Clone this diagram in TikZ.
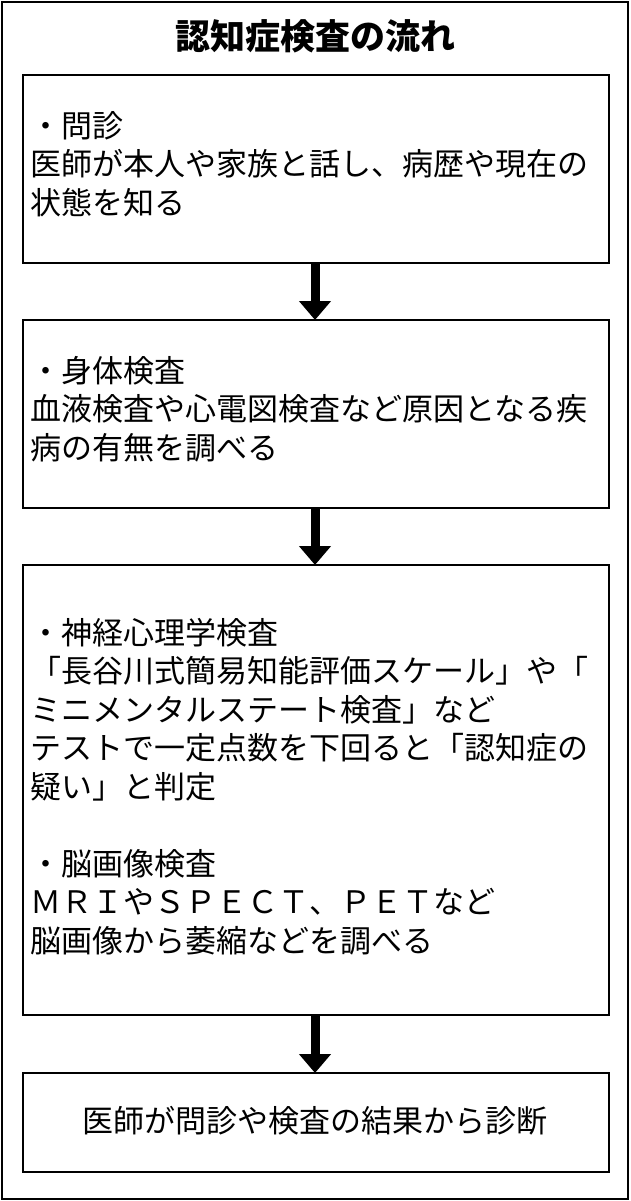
\documentclass[tikz,border=0pt]{standalone}
\usepackage{fontspec}
\setmainfont{Noto Sans CJK JP}
\usetikzlibrary{arrows.meta}
\begin{document}
\begin{tikzpicture}[x=1pt,y=-1pt,
  box/.style={draw,line width=1.5pt},
  txt/.style={anchor=north west,inner sep=0pt,align=left,font=\fontsize{31}{38.5}\selectfont},
  flow/.style={line width=9pt,-{Triangle[length=19pt,width=31pt]}}]
\useasboundingbox (0,0) rectangle (630,1201);
\draw[box] (2,2) rectangle (628,1199);
\node (title) at (315,36) {\fontsize{35}{40}\selectfont\bfseries 認知症検査の流れ};
\draw[box] (23,75) rectangle (609,263);
\coordinate (b1s) at (315,263);
\node[txt] (t1) at (30,111) {・問診\\医師が本人や家族と話し、病歴や現在の\\状態を知る};
\draw[box] (23,320) rectangle (609,508);
\coordinate (b2n) at (315,320);
\coordinate (b2s) at (315,508);
\node[txt] (t2) at (30,356) {・身体検査\\血液検査や心電図検査など原因となる疾\\病の有無を調べる};
\draw[box] (23,565) rectangle (609,1015);
\coordinate (b3n) at (315,565);
\coordinate (b3s) at (315,1015);
\node[txt] (t3) at (30,618) {・神経心理学検査\\「長谷川式簡易知能評価スケール」や「\\ミニメンタルステート検査」など\\テストで一定点数を下回ると「認知症の\\疑い」と判定\\[38.5pt]・脳画像検査\\ＭＲＩやＳＰＥＣＴ、ＰＥＴなど\\脳画像から萎縮などを調べる};
\draw[box] (23,1073) rectangle (609,1172);
\coordinate (b4n) at (315,1073);
\node (t4) at (315,1121) {\fontsize{31}{36}\selectfont 医師が問診や検査の結果から診断};
\draw[flow] (b1s) -- (b2n);
\draw[flow] (b2s) -- (b3n);
\draw[flow] (b3s) -- (b4n);
\end{tikzpicture}
\end{document}
